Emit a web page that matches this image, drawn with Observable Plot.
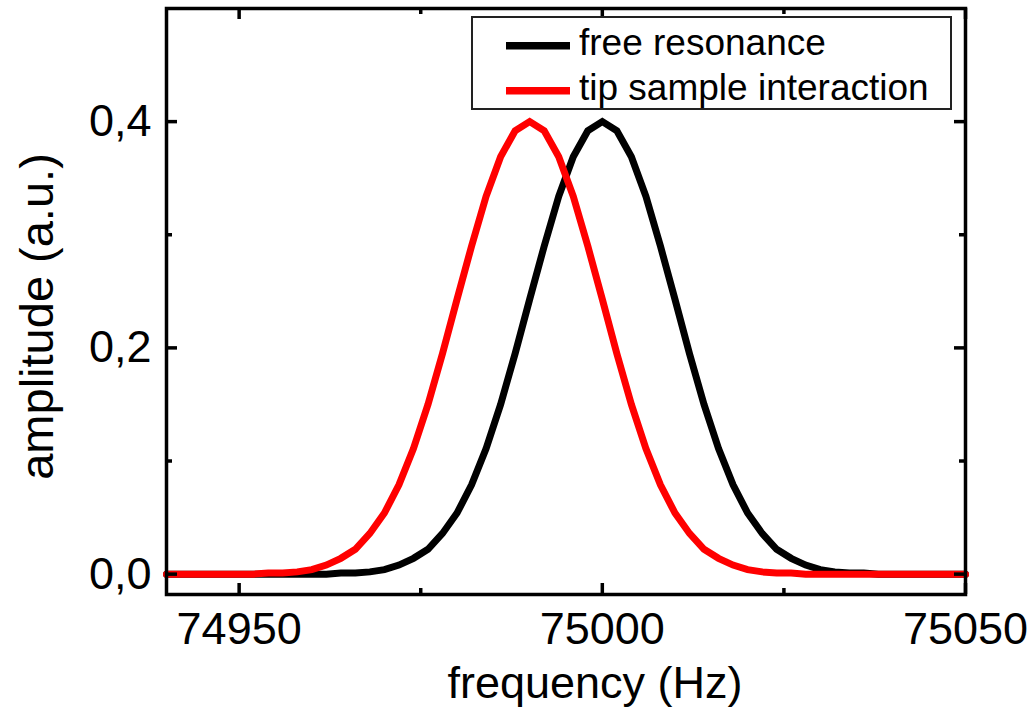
<!DOCTYPE html>
<html>
<head>
<meta charset="utf-8">
<script src="https://cdn.jsdelivr.net/npm/d3@7"></script>
<script src="https://cdn.jsdelivr.net/npm/@observablehq/plot@0.6"></script>
<style>
  html, body { margin: 0; padding: 0; background: #fff; }
  #chart { width: 1033px; height: 708px; }
</style>
</head>
<body>
<div id="chart"></div>
<script>
// ---- data ----
const freq = [74940,74942,74944,74946,74948,74950,74952,74954,74956,74958,
              74960,74962,74964,74966,74968,74970,74972,74974,74976,74978,
              74980,74982,74984,74986,74988,74990,74992,74994,74996,74998,
              75000,75002,75004,75006,75008,75010,75012,75014,75016,75018,
              75020,75022,75024,75026,75028,75030,75032,75034,75036,75038,
              75040,75042,75044,75046,75048,75050];
const freeResonance = [0,0,0,0,0,0,0,0,0,0,
              0.000,0.000,0.001,0.001,0.002,0.004,0.008,0.014,0.022,0.036,
              0.054,0.079,0.111,0.150,0.195,0.243,0.290,0.334,0.369,0.392,
              0.400,0.392,0.369,0.334,0.290,0.243,0.195,0.150,0.111,0.079,
              0.054,0.036,0.022,0.014,0.008,0.004,0.002,0.001,0.001,0.000,
              0.000,0,0,0,0,0];
const tipSample = [0,0,0,0,0,
              0.000,0.000,0.001,0.001,0.002,0.004,0.008,0.014,0.022,0.036,
              0.054,0.079,0.111,0.150,0.195,0.243,0.290,0.334,0.369,0.392,
              0.400,0.392,0.369,0.334,0.290,0.243,0.195,0.150,0.111,0.079,
              0.054,0.036,0.022,0.014,0.008,0.004,0.002,0.001,0.001,0.000,
              0.000,0,0,0,0,0,0,0,0,0,0];
const seriesNames = ["free resonance", "tip sample interaction"];
const seriesColors = ["#000000", "#ff0000"];
const xMajor = [74950, 75000, 75050];
const xMinor = [74975, 75025];
const yMajor = [0, 0.2, 0.4];
const yMinor = [0.1, 0.3];
const xTitle = "frequency (Hz)";
const yTitle = "amplitude (a.u.)";

const rows = [];
freq.forEach((f, i) => {
  rows.push({f, a: freeResonance[i], s: seriesNames[0]});
});
freq.forEach((f, i) => {
  rows.push({f, a: tipSample[i], s: seriesNames[1]});
});

const W = 1033, H = 708;
const mL = 166, mR = 68, mT = 8, mB = 114;
const innerH = H - mT - mB;
const innerW = W - mL - mR;
const font = "'Liberation Sans', Arial, Helvetica, sans-serif";

const svg = Plot.plot({
  width: W,
  height: H,
  marginLeft: mL, marginRight: mR, marginTop: mT, marginBottom: mB,
  style: {fontFamily: font, fontSize: "45px", background: "#fff", color: "#000"},
  x: {domain: [74940, 75050]},
  y: {domain: [-0.018, 0.5]},
  color: {domain: seriesNames, range: seriesColors},
  marks: [
    Plot.line(rows, {x: "f", y: "a", stroke: "s", z: "s", strokeWidth: 7, strokeLinejoin: "miter", strokeMiterlimit: 3}),
    // inward ticks on all four sides
    Plot.tickX(xMajor, {x: d => d, insetTop: innerH - 11, stroke: "#000", strokeWidth: 3.5}),
    Plot.tickX(xMajor, {x: d => d, insetBottom: innerH - 11, stroke: "#000", strokeWidth: 3.5}),
    Plot.tickX(xMinor, {x: d => d, insetTop: innerH - 6, stroke: "#000", strokeWidth: 3.5}),
    Plot.tickX(xMinor, {x: d => d, insetBottom: innerH - 6, stroke: "#000", strokeWidth: 3.5}),
    Plot.tickY(yMajor, {y: d => d, insetRight: innerW - 11, stroke: "#000", strokeWidth: 3.5}),
    Plot.tickY(yMajor, {y: d => d, insetLeft: innerW - 11, stroke: "#000", strokeWidth: 3.5}),
    Plot.tickY(yMinor, {y: d => d, insetRight: innerW - 6, stroke: "#000", strokeWidth: 3.5}),
    Plot.tickY(yMinor, {y: d => d, insetLeft: innerW - 6, stroke: "#000", strokeWidth: 3.5}),
    Plot.frame({stroke: "#000", strokeWidth: 3.5}),
    Plot.axisX(xMajor, {anchor: "bottom", tickSize: 0, tickPadding: 18, fontSize: 45,
      tickFormat: d => String(d), label: null}),
    Plot.axisY(yMajor, {anchor: "left", tickSize: 0, tickPadding: 15, fontSize: 45,
      tickFormat: d => d.toFixed(1).replace(".", ","), label: null}),
    Plot.text([xTitle], {text: d => d, frameAnchor: "bottom", dx: 29, dy: 103,
      lineAnchor: "bottom", textAnchor: "middle", fontSize: 45, fill: "#000"}),
    Plot.text([yTitle], {text: d => d, frameAnchor: "left", rotate: -90, dx: -114, dy: 15,
      lineAnchor: "bottom", textAnchor: "middle", fontSize: 47, fill: "#000"})
  ]
});

// legend box
const g = d3.select(svg).append("g").attr("font-family", font).attr("text-anchor", "start");
g.append("rect").attr("x", 472).attr("y", 17).attr("width", 479).attr("height", 92)
  .attr("fill", "#fff").attr("stroke", "#222").attr("stroke-width", 2);
seriesNames.forEach((name, i) => {
  const cy = 45.7 + i * 45;
  g.append("line").attr("x1", 506).attr("x2", 570).attr("y1", cy).attr("y2", cy)
    .attr("stroke", seriesColors[i]).attr("stroke-width", 7.5);
  g.append("text").attr("x", 579).attr("y", 55 + i * 45)
    .attr("text-anchor", "start")
    .attr("font-size", 37).attr("fill", "#000").text(name);
});

document.getElementById("chart").appendChild(svg);
</script>
</body>
</html>
